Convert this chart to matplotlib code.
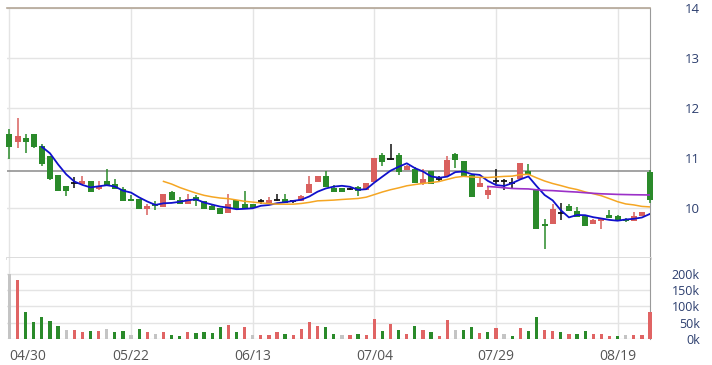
import numpy as np
import pandas as pd
import matplotlib
matplotlib.use("Agg")
import matplotlib.pyplot as plt

plt.rcParams['font.family'] = ['Open Sans', 'DejaVu Sans']

# daily candles, price axis on the right
opens  = [11.49, 11.33, 11.39, 11.49, 11.25, 11.04, 10.65, 10.44, 10.51, 10.48,
          10.54, 10.38, 10.54, 10.49, 10.38, 10.19, 10.18, 9.97, 10.09, 10.03,
          10.31, 10.16, 10.08, 10.23, 10.13, 10.04, 9.99, 9.91, 10.16, 10.08,
          10.09, 10.13, 10.11, 10.17, 10.18, 10.14, 10.14, 10.31, 10.53, 10.64,
          10.41, 10.41, 10.39, 10.43, 10.36, 10.53, 11.06, 10.98, 11.06, 10.77,
          10.79, 10.51, 10.74, 10.59, 10.64, 11.08, 10.95, 10.66, 10.43, 10.26,
          10.55, 10.55, 10.51, 10.59, 10.75, 10.36, 9.68, 9.68, 9.91, 10.04,
          9.94, 9.84, 9.68, 9.75, 9.87, 9.84, 9.78, 9.74, 9.85, 10.72]
highs  = [11.59, 11.81, 11.49, 11.49, 11.29, 11.04, 10.65, 10.44, 10.63, 10.64,
          10.54, 10.54, 10.79, 10.58, 10.43, 10.26, 10.18, 10.09, 10.13, 10.29,
          10.35, 10.23, 10.29, 10.26, 10.13, 10.06, 9.99, 10.29, 10.16, 10.35,
          10.09, 10.19, 10.23, 10.29, 10.28, 10.16, 10.27, 10.64, 10.64, 10.75,
          10.46, 10.41, 10.41, 10.45, 10.49, 10.99, 11.11, 11.29, 11.11, 10.86,
          10.83, 10.78, 10.74, 10.64, 11.05, 11.11, 10.95, 10.66, 10.63, 10.43,
          10.79, 10.59, 10.61, 10.89, 10.89, 10.36, 9.79, 10.08, 10.11, 10.08,
          10.03, 9.84, 9.78, 9.78, 9.96, 9.86, 9.80, 9.93, 9.93, 10.76]
lows   = [10.99, 11.21, 11.11, 11.21, 10.84, 10.56, 10.34, 10.25, 10.41, 10.48,
          10.33, 10.36, 10.45, 10.38, 10.13, 10.13, 9.97, 9.86, 9.96, 10.03,
          10.17, 10.08, 10.08, 10.04, 9.97, 9.96, 9.88, 9.91, 9.99, 10.01,
          10.01, 10.08, 10.11, 10.13, 10.11, 10.11, 10.14, 10.31, 10.53, 10.43,
          10.33, 10.33, 10.36, 10.25, 10.36, 10.53, 10.84, 10.96, 10.66, 10.77,
          10.51, 10.46, 10.49, 10.54, 10.64, 10.81, 10.65, 10.23, 10.43, 10.19,
          10.49, 10.36, 10.41, 10.59, 10.66, 9.59, 9.19, 9.68, 9.76, 9.94,
          9.83, 9.63, 9.68, 9.59, 9.80, 9.75, 9.73, 9.74, 9.84, 10.10]
closes = [11.23, 11.45, 11.33, 11.23, 10.88, 10.58, 10.34, 10.34, 10.51, 10.54,
          10.33, 10.45, 10.45, 10.38, 10.13, 10.13, 9.97, 10.04, 10.04, 10.29,
          10.17, 10.08, 10.19, 10.14, 9.97, 9.96, 9.88, 10.08, 9.99, 10.01,
          10.01, 10.13, 10.16, 10.17, 10.11, 10.14, 10.25, 10.49, 10.64, 10.43,
          10.33, 10.33, 10.39, 10.34, 10.49, 10.99, 10.93, 10.98, 10.73, 10.84,
          10.51, 10.59, 10.49, 10.59, 10.96, 10.96, 10.65, 10.23, 10.51, 10.36,
          10.55, 10.55, 10.51, 10.89, 10.66, 9.59, 9.65, 9.97, 9.91, 9.94,
          9.83, 9.63, 9.77, 9.78, 9.80, 9.75, 9.75, 9.84, 9.91, 10.16]
# volume in thousands
volumes = [200, 182, 83, 52, 67, 56, 41, 29, 29, 21,
           26, 26, 32, 21, 26, 13, 32, 21, 16, 21,
           13, 10, 21, 18, 21, 18, 36, 44, 21, 36,
           13, 13, 13, 21, 16, 13, 32, 51, 41, 36,
           16, 13, 12, 15, 12, 62, 24, 45, 29, 15,
           41, 29, 20, 9, 58, 29, 29, 36, 17, 20,
           33, 15, 9, 33, 26, 69, 29, 24, 20, 15,
           15, 24, 15, 15, 10, 9, 12, 12, 12, 83]

date_idx = [0, 15, 30, 45, 60, 75]
date_labels = ["04/30", "05/22", "06/13", "07/04", "07/29", "08/19"]
price_ticks = [10, 11, 12, 13, 14]
vol_ticks = [0, 50, 100, 150, 200]
ref_price = 10.74

UP = '#d9605e'
DOWN = '#2a8a2a'
FLAT = '#111111'
VUP = '#e06464'
VFLAT = '#c4c4c4'
GRID = '#e4e4e4'
LBL = '#2c3e6e'

W, H = 712, 365
fig = plt.figure(figsize=(W / 100, H / 100), dpi=100)
L, R = 7, 650
ax = fig.add_axes([L / W, 1 - 258 / H, (R - L) / W, 250 / H])
axv = fig.add_axes([L / W, 1 - 339 / H, (R - L) / W, 81 / H], sharex=ax)

x = np.arange(len(closes))
o = np.array(opens); h = np.array(highs); lo = np.array(lows); c = np.array(closes)

# candles
for i in x:
    if c[i] > o[i]:
        col = UP
    elif c[i] < o[i]:
        col = DOWN
    else:
        col = FLAT
    ax.vlines(i, lo[i], h[i], color=col, lw=1.1, zorder=3, clip_on=False)
    if c[i] == o[i]:
        ax.hlines(c[i], i - 0.4, i + 0.4, color=col, lw=1.3, zorder=3, clip_on=False)
    else:
        ax.bar(i, abs(c[i] - o[i]), bottom=min(o[i], c[i]), width=0.74,
               color=col, zorder=3, clip_on=False)

# moving averages
s = pd.Series(closes)
ax.plot(x, s.rolling(5).mean(), color='#1010cc', lw=1.3, zorder=4)
ax.plot(x, s.rolling(20).mean(), color='#f5a623', lw=1.1, zorder=4)
ax.plot(x, s.rolling(60).mean(), color='#9b30c8', lw=1.2, zorder=4)
ax.axhline(ref_price, color='#8a8a8a', lw=1.1, zorder=2)

ax.set_xlim(-0.3, 79)
ax.set_ylim(9, 14)
ax.set_yticks(price_ticks)
ax.yaxis.tick_right()
ax.tick_params(axis='y', length=0, pad=36, labelsize=9.5, labelcolor=LBL)
for t in ax.get_yticklabels():
    t.set_horizontalalignment('right')
ax.tick_params(axis='x', length=0, labelbottom=False)
ax.set_xticks(date_idx)
ax.grid(True, color=GRID, lw=1, zorder=0)
ax.spines['left'].set_visible(False)
ax.spines['top'].set_color('#b3a696')
ax.spines['top'].set_linewidth(1.2)
ax.spines['right'].set_color('#9a9a9a')
ax.spines['bottom'].set_color('#d9d9d9')
ax.spines['bottom'].set_linewidth(2)

# volume, coloured by change from previous close
diff = np.round(np.diff(c, prepend=c[0]), 4)
vcol = np.where(diff > 0, VUP, np.where(diff < 0, DOWN, VFLAT))
axv.bar(x, volumes, width=0.4, color=vcol, zorder=3, clip_on=False)
axv.set_ylim(0, 249)
axv.set_yticks(vol_ticks)
axv.set_yticklabels([f"{v}k" for v in vol_ticks])
axv.yaxis.tick_right()
axv.tick_params(axis='y', length=0, pad=36, labelsize=9, labelcolor=LBL)
for t in axv.get_yticklabels():
    t.set_horizontalalignment('right')
axv.set_xticks(date_idx)
axv.set_xticklabels(date_labels)
axv.tick_params(axis='x', length=0, pad=7, labelsize=10, labelcolor='#555555')
axv.get_xticklabels()[0].set_horizontalalignment('left')
axv.grid(True, color=GRID, lw=1, zorder=0)
for sp in ['left', 'top', 'bottom']:
    axv.spines[sp].set_visible(False)
axv.spines['right'].set_color('#9a9a9a')

fig.savefig('out.png', dpi=100)
